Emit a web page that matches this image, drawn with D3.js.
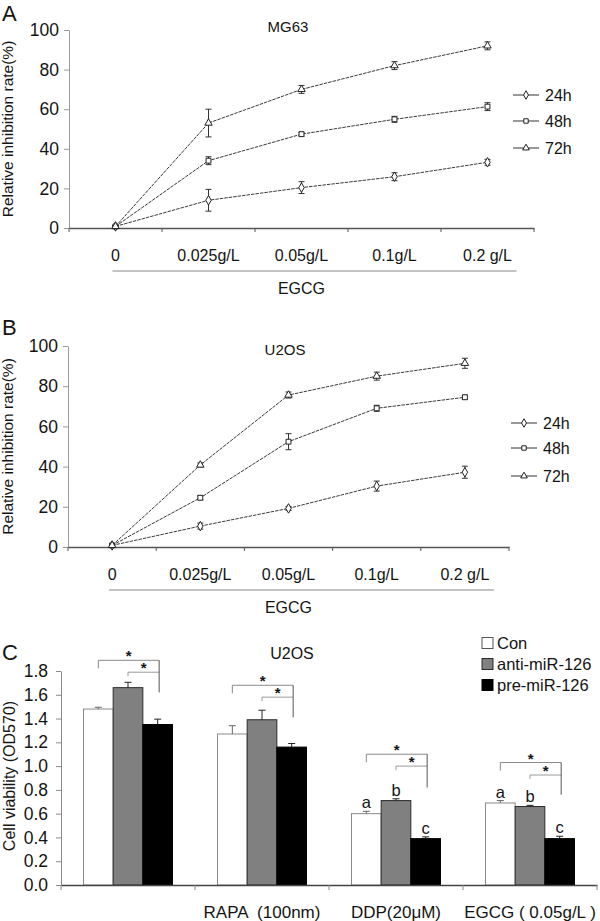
<!DOCTYPE html>
<html><head><meta charset="utf-8">
<script src="https://cdn.jsdelivr.net/npm/d3@7"></script>
<style>
body{margin:0;background:#fff}
svg{display:block}
text{font-family:"Liberation Sans",Arial,Helvetica,sans-serif;fill:#141414}
</style>
</head><body>
<svg id="fig" width="600" height="921"></svg>
<script>
// ---------- data ----------
const doseLabels = ["0", "0.025g/L", "0.05g/L", "0.1g/L", "0.2 g/L"];
const timeLabels = ["24h", "48h", "72h"];
const lineYTicks = [0, 20, 40, 60, 80, 100];

// Panel A: MG63
const mg63_24h = [0.8, 14, 20.4, 25.9, 33.2];
const mg63_24h_err = [0.5, 5.5, 3, 2, 1.5];
const mg63_48h = [0.8, 34, 47.4, 54.9, 61.3];
const mg63_48h_err = [0.5, 2, 1, 1.5, 2];
const mg63_72h = [0.8, 53, 70, 82, 92];
const mg63_72h_err = [0.5, 7, 2, 2, 2];

// Panel B: U2OS
const u2os_24h = [0.8, 10.4, 19.2, 30.3, 37.2];
const u2os_24h_err = [0.5, 1.5, 1, 2.5, 3];
const u2os_48h = [0.8, 24.5, 52.4, 69, 74.5];
const u2os_48h_err = [0.5, 1, 4, 1.5, 1];
const u2os_72h = [0.8, 40.8, 75.6, 85, 91.4];
const u2os_72h_err = [0.5, 1, 1.5, 2, 2.5];

// Panel C: cell viability
const groupLabels = ["", "RAPA  (100nm)", "DDP(20\u03bcM)", "EGCG ( 0.05g/L )"];
const condLabels = ["Con", "anti-miR-126", "pre-miR-126"];
const conVals = [1.48, 1.27, 0.60, 0.69];
const conErr = [0.015, 0.07, 0.02, 0.02];
const antiVals = [1.66, 1.39, 0.71, 0.66];
const antiErr = [0.045, 0.08, 0.015, 0.01];
const preVals = [1.35, 1.16, 0.39, 0.39];
const preErr = [0.045, 0.03, 0.015, 0.02];
const barYTicks = [0, 0.2, 0.4, 0.6, 0.8, 1.0, 1.2, 1.4, 1.6, 1.8];
// significance brackets (value levels)
const sigOuter = [1.89, 1.68, 1.10, 1.03];
const sigInner = [1.79, 1.58, 1.00, 0.925];
const sigLegEnd = [1.62, 1.41, 0.82, 0.76];
const groupLetters = [null, null, ["a", "b", "c"], ["a", "b", "c"]];

// ---------- drawing ----------
const svg = d3.select("#fig");
const symbols = [d3.symbolDiamond, d3.symbolSquare, d3.symbolTriangle];
const symSizes = [26, 24, 24];

function linePanel(o) {
  const g = svg.append("g");
  const x = d3.scaleBand().domain(doseLabels).range([o.left, o.right]);
  const y = d3.scaleLinear().domain([0, 100]).range([o.bottom, o.top]);
  const cx = d => x(d) + x.bandwidth() / 2;

  const ya = g.append("g").attr("transform", `translate(${o.left},0)`)
    .call(d3.axisLeft(y).tickValues(lineYTicks).tickSize(5).tickSizeOuter(0).tickPadding(5));
  ya.select(".domain").attr("stroke", "#9a9a9a");
  ya.selectAll(".tick line").attr("stroke", "#9a9a9a");
  ya.selectAll("text").attr("font-size", 17.5).style("font-family", "inherit").attr("fill", "#141414");

  const xa = g.append("g").attr("transform", `translate(0,${o.bottom})`)
    .call(d3.axisBottom(x).tickSize(0).tickSizeOuter(0).tickPadding(22));
  xa.select(".domain").attr("stroke", "#555").attr("stroke-width", 1.3);
  xa.selectAll("text").attr("font-size", 16).style("font-family", "inherit").attr("fill", "#141414");
  g.selectAll(".bt").data(d3.range(doseLabels.length + 1)).join("line")
    .attr("x1", i => o.left + i * x.step()).attr("x2", i => o.left + i * x.step())
    .attr("y1", o.bottom).attr("y2", o.bottom + 4).attr("stroke", "#555");

  // category line + EGCG
  g.append("line").attr("x1", cx(doseLabels[0]) - 3).attr("x2", cx(doseLabels[4]) + 29)
    .attr("y1", o.bottom + 43).attr("y2", o.bottom + 43).attr("stroke", "#888").attr("stroke-width", 1.2);
  g.append("text").attr("x", (o.left + o.right) / 2).attr("y", o.bottom + 66)
    .attr("text-anchor", "middle").attr("font-size", 16).text("EGCG");

  // y label
  g.append("text").attr("transform", `translate(${o.ylabX},${(o.top + o.bottom) / 2}) rotate(-90)`)
    .attr("text-anchor", "middle").attr("font-size", 15.5).text("Relative inhibition rate(%)");
  // title
  g.append("text").attr("x", o.titleX).attr("y", o.titleY).attr("text-anchor", "middle")
    .attr("font-size", 15).text(o.title);
  // panel letter
  g.append("text").attr("x", 2).attr("y", o.letterY).attr("font-size", 22).text(o.letter);

  const line = d3.line().x(d => cx(d.dose)).y(d => y(d.v));
  o.series.forEach((s, si) => {
    const pts = s.vals.map((v, i) => ({dose: doseLabels[i], v: v, e: s.err[i]}));
    g.append("path").datum(pts).attr("d", line).attr("fill", "none")
      .attr("stroke", "#3a3a3a").attr("stroke-width", 1).attr("stroke-dasharray", "3.5,1");
    const eb = g.append("g");
    pts.forEach(p => {
      const x0 = cx(p.dose), y1 = y(p.v - p.e), y2 = y(p.v + p.e);
      eb.append("line").attr("x1", x0).attr("x2", x0).attr("y1", y1).attr("y2", y2).attr("stroke", "#333");
      [y1, y2].forEach(yy => eb.append("line").attr("x1", x0 - 3).attr("x2", x0 + 3)
        .attr("y1", yy).attr("y2", yy).attr("stroke", "#333"));
    });
    g.selectAll(null).data(pts).join("path")
      .attr("transform", p => `translate(${cx(p.dose)},${y(p.v)})`)
      .attr("d", d3.symbol().type(symbols[si]).size(symSizes[si]))
      .attr("fill", "#fff").attr("stroke", "#222").attr("stroke-width", 1);
  });

  // legend
  timeLabels.forEach((t, i) => {
    const yy = o.legY[i];
    g.append("line").attr("x1", o.legX).attr("x2", o.legX + 26).attr("y1", yy).attr("y2", yy)
      .attr("stroke", "#333");
    g.append("path").attr("transform", `translate(${o.legX + 13},${yy})`)
      .attr("d", d3.symbol().type(symbols[i]).size(symSizes[i] * 0.8))
      .attr("fill", "#fff").attr("stroke", "#222");
    g.append("text").attr("x", o.legX + 32).attr("y", yy).attr("dy", "0.36em")
      .attr("font-size", 16).text(t);
  });
}

linePanel({
  left: 69, right: 534, top: 30, bottom: 228,
  title: "MG63", titleX: 288, titleY: 32, letter: "A", letterY: 21, ylabX: 13,
  legX: 513, legY: [95, 121, 148],
  series: [
    {vals: mg63_24h, err: mg63_24h_err},
    {vals: mg63_48h, err: mg63_48h_err},
    {vals: mg63_72h, err: mg63_72h_err}
  ]
});

linePanel({
  left: 68, right: 509, top: 346, bottom: 547,
  title: "U2OS", titleX: 285, titleY: 355, letter: "B", letterY: 335, ylabX: 13,
  legX: 511, legY: [423, 448, 476],
  series: [
    {vals: u2os_24h, err: u2os_24h_err},
    {vals: u2os_48h, err: u2os_48h_err},
    {vals: u2os_72h, err: u2os_72h_err}
  ]
});

// ---------- Panel C ----------
(function () {
  const L = 61, R = 597, T = 671, B = 885;
  const g = svg.append("g");
  const x = d3.scaleBand().domain(d3.range(groupLabels.length)).range([L, R]);
  const groupW = 89;
  const xs = d3.scaleBand().domain(condLabels).range([0, groupW]);
  const y = d3.scaleLinear().domain([0, 1.8]).range([B, T]);
  const vals = [conVals, antiVals, preVals];
  const errs = [conErr, antiErr, preErr];
  const fills = ["#ffffff", "#808080", "#000000"];
  const strokes = ["#8a8a8a", "#2a2a2a", "#000000"];
  const bx = (gi, ci) => x(gi) + (x.bandwidth() - groupW) / 2 + xs(condLabels[ci]);
  const bc = (gi, ci) => bx(gi, ci) + xs.bandwidth() / 2;

  const ya = g.append("g").attr("transform", `translate(${L},0)`)
    .call(d3.axisLeft(y).tickValues(barYTicks).tickFormat(d3.format(".1f")).tickSize(5).tickSizeOuter(0).tickPadding(8));
  ya.select(".domain").attr("stroke", "#8a8a8a");
  ya.selectAll(".tick line").attr("stroke", "#8a8a8a");
  ya.selectAll("text").attr("font-size", 17.5).style("font-family", "inherit").attr("fill", "#141414");

  // bars
  groupLabels.forEach((gl, gi) => {
    condLabels.forEach((c, ci) => {
      const v = vals[ci][gi], e = errs[ci][gi];
      g.append("rect").attr("x", bx(gi, ci)).attr("y", y(v))
        .attr("width", xs.bandwidth()).attr("height", y(0) - y(v))
        .attr("fill", fills[ci]).attr("stroke", strokes[ci]).attr("stroke-width", 1);
      const xc = bc(gi, ci);
      const ec = ci === 0 ? "#666" : "#222";
      g.append("line").attr("x1", xc).attr("x2", xc).attr("y1", y(v)).attr("y2", y(v + e)).attr("stroke", ec);
      g.append("line").attr("x1", xc - 3.5).attr("x2", xc + 3.5).attr("y1", y(v + e)).attr("y2", y(v + e)).attr("stroke", ec);
      if (groupLetters[gi]) {
        g.append("text").attr("x", xc).attr("y", y(v + e) - 3).attr("text-anchor", "middle")
          .attr("font-size", 16.5).text(groupLetters[gi][ci]);
      }
    });
    // significance brackets
    const xL = bc(gi, 0), xM = bc(gi, 1), xR = bc(gi, 2) + 1.5;
    const yo = y(sigOuter[gi]), yi = y(sigInner[gi]), yl = y(sigLegEnd[gi]);
    g.append("path").attr("d", `M${xL},${yo + 8}V${yo}H${xR}`).attr("fill", "none").attr("stroke", "#8a8a8a");
    g.append("path").attr("d", `M${xM},${yi + 4}V${yi}H${xR}`).attr("fill", "none").attr("stroke", "#9a9a9a");
    g.append("line").attr("x1", xR).attr("x2", xR).attr("y1", yo).attr("y2", yl).attr("stroke", "#555");
    g.append("text").attr("x", (xL + xR) / 2).attr("y", yo + 1).attr("text-anchor", "middle")
      .attr("font-size", 15).attr("font-weight", "bold").text("*");
    g.append("text").attr("x", (xM + xR) / 2).attr("y", yi + 1).attr("text-anchor", "middle")
      .attr("font-size", 15).attr("font-weight", "bold").text("*");
  });

  // x axis
  const xa = g.append("g").attr("transform", `translate(0,${B})`)
    .call(d3.axisBottom(x).tickFormat(i => groupLabels[i]).tickSize(0).tickSizeOuter(0).tickPadding(21));
  xa.select(".domain").attr("stroke", "#444").attr("stroke-width", 1.3);
  xa.selectAll("text").attr("font-size", 17).style("font-family", "inherit").style("white-space", "pre").attr("fill", "#141414");
  g.selectAll(".bt").data(d3.range(groupLabels.length + 1)).join("line")
    .attr("x1", i => L + i * x.step()).attr("x2", i => L + i * x.step())
    .attr("y1", B).attr("y2", B + 5).attr("stroke", "#888");

  // labels
  g.append("text").attr("transform", `translate(15,${(T + B) / 2 - 2}) rotate(-90)`)
    .attr("text-anchor", "middle").attr("font-size", 16).text("Cell viability (OD570)");
  g.append("text").attr("x", 292).attr("y", 659).attr("text-anchor", "middle").attr("font-size", 16).text("U2OS");
  g.append("text").attr("x", 2).attr("y", 660).attr("font-size", 22).text("C");

  // legend
  const legY = [643, 664, 685];
  condLabels.forEach((c, ci) => {
    g.append("rect").attr("x", 482).attr("y", legY[ci] - 5.5).attr("width", 11).attr("height", 11)
      .attr("fill", fills[ci]).attr("stroke", ci === 0 ? "#555" : strokes[ci]);
    g.append("text").attr("x", 497).attr("y", legY[ci]).attr("dy", "0.36em").attr("font-size", 16.5).text(c);
  });
})();
</script>
</body></html>
